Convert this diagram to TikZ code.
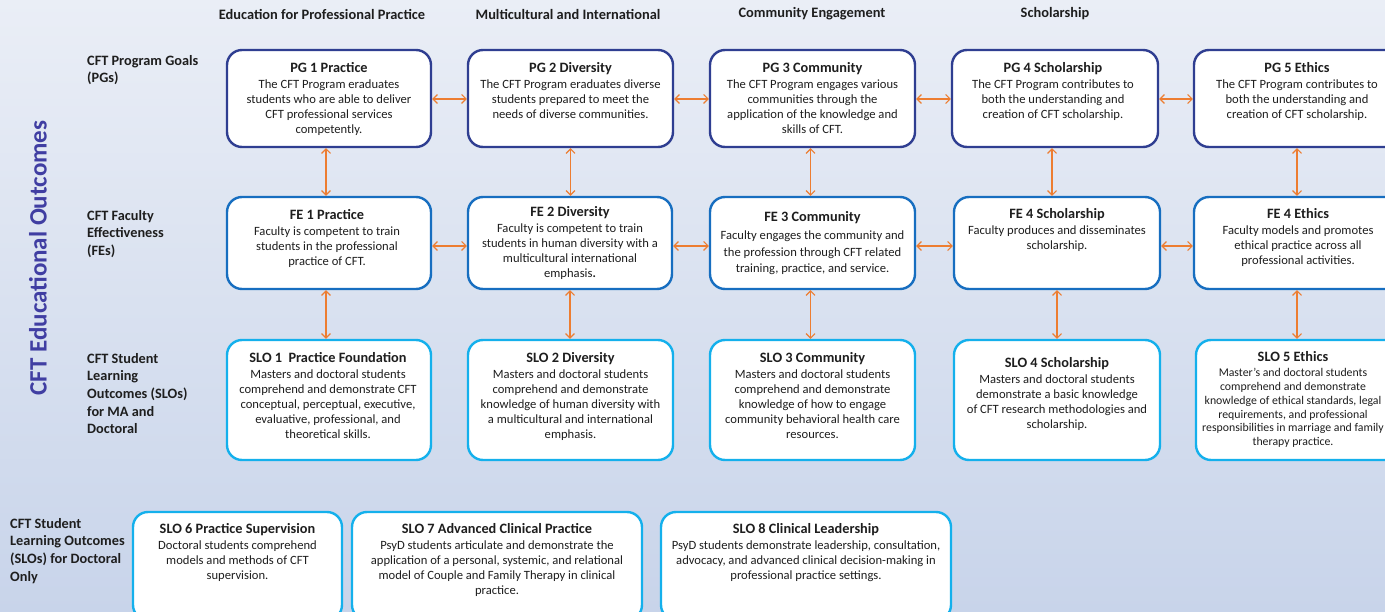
\documentclass[tikz,border=0pt]{standalone}
\usepackage{fontspec}
\setmainfont{Carlito}
\usetikzlibrary{arrows.meta}
\definecolor{bgtop}{RGB}{234,238,246}
\definecolor{bgbot}{RGB}{200,212,234}
\definecolor{pgcol}{RGB}{47,62,145}
\definecolor{fecol}{RGB}{23,110,192}
\definecolor{slocol}{RGB}{20,176,236}
\definecolor{arrcol}{RGB}{237,125,49}
\definecolor{vtext}{RGB}{64,62,162}
\definecolor{txtcol}{RGB}{30,30,30}
\newcommand{\bodyf}{\fontsize{12.6}{15}\selectfont}
\newcommand{\ttlf}{\fontsize{14.3}{15}\selectfont\bfseries}
\begin{document}
\begin{tikzpicture}[x=1pt,y=-1pt,
  boxbase/.style={draw, fill=white, rounded corners=15pt, line width=2.4pt, inner sep=0pt},
  pgbox/.style={boxbase, draw=pgcol, minimum height=97pt},
  febox/.style={boxbase, draw=fecol, minimum height=92pt},
  slobox/.style={boxbase, draw=slocol, minimum height=120pt},
  botbox/.style={boxbase, draw=slocol, minimum height=108pt},
  txt/.style={align=center, inner sep=0pt, anchor=north, font=\bodyf, text=txtcol},
  hdr/.style={font=\fontsize{14.4}{15}\selectfont\bfseries, text=txtcol, inner sep=0pt},
  rowlab/.style={font=\fontsize{14.3}{17.6}\selectfont\bfseries, text=txtcol, align=left, anchor=north west, inner sep=0pt},
  conn/.style={draw=arrcol, line width=1.1pt, {Straight Barb[length=4.5pt,width=9pt]}-{Straight Barb[length=4.5pt,width=9pt]}}
]
\useasboundingbox (0,0) rectangle (1385,612);
\clip (0,0) rectangle (1385,612);
\shade[top color=bgtop, bottom color=bgbot] (0,0) rectangle (1385,612);

% vertical title
\node[rotate=90, font=\fontsize{25}{28}\selectfont\bfseries, text=vtext, inner sep=0pt] (vt) at (38,258) {CFT Educational Outcomes};

% column headers
\node[hdr] (h1) at (322,14) {Education for Professional Practice};
\node[hdr] (h2) at (568,14) {Multicultural and International};
\node[hdr] (h3) at (812,14) {Community Engagement};
\node[hdr] (h4) at (1055,14) {Scholarship};

% row labels
\node[rowlab] (l1) at (87,55) {CFT Program Goals\\(PGs)};
\node[rowlab] (l2) at (87,210) {CFT Faculty\\Effectiveness\\(FEs)};
\node[rowlab] (l3) at (87,353) {CFT Student\\Learning\\Outcomes (SLOs)\\for MA and\\Doctoral};
\node[rowlab] (l4) at (10,518) {CFT Student\\Learning Outcomes\\(SLOs) for Doctoral\\Only};

% PG row
\node[pgbox, minimum width=204pt] (pg1) at (329,98.5) {};
\node[pgbox, minimum width=205pt] (pg2) at (570.5,98.5) {};
\node[pgbox, minimum width=205pt] (pg3) at (812.5,98.5) {};
\node[pgbox, minimum width=206pt] (pg4) at (1055,98.5) {};
\node[pgbox, minimum width=206pt] (pg5) at (1297,98.5) {};
\node[txt] (pg1t) at (329,62) {{\ttlf PG 1 Practice}\\[1pt]The CFT Program eraduates\\students who are able to deliver\\CFT professional services\\competently.};
\node[txt] (pg2t) at (570.5,62) {{\ttlf PG 2 Diversity}\\[1pt]The CFT Program eraduates diverse\\students prepared to meet the\\needs of diverse communities.};
\node[txt] (pg3t) at (812.5,62) {{\ttlf PG 3 Community}\\[1pt]The CFT Program engages various\\communities through the\\application of the knowledge and\\skills of CFT.};
\node[txt] (pg4t) at (1053,62) {{\ttlf PG 4 Scholarship}\\[1pt]The CFT Program contributes to\\both the understanding and\\creation of CFT scholarship.};
\node[txt] (pg5t) at (1297,62) {{\ttlf PG 5 Ethics}\\[1pt]The CFT Program contributes to\\both the understanding and\\creation of CFT scholarship.};

% FE row
\node[febox, minimum width=204pt] (fe1) at (329,243) {};
\node[febox, minimum width=204pt] (fe2) at (570,243) {};
\node[febox, minimum width=205pt] (fe3) at (812.5,243) {};
\node[febox, minimum width=206pt] (fe4) at (1057,243) {};
\node[febox, minimum width=206pt] (fe5) at (1297,243) {};
\node[txt] (fe1t) at (327,209) {{\ttlf FE 1 Practice}\\[1pt]Faculty is competent to train\\students in the professional\\practice of CFT.};
\node[txt] (fe2t) at (570,206) {{\ttlf FE 2 Diversity}\\[1pt]Faculty is competent to train\\students in human diversity with a\\multicultural international\\emphasis\textbf{.}};
\node[txt, font=\fontsize{12.6}{16.5}\selectfont] (fe3t) at (812.5,211) {{\ttlf FE 3 Community}\\[2pt]Faculty engages the community and\\the profession through CFT related\\training, practice, and service.};
\node[txt] (fe4t) at (1057,208) {{\ttlf FE 4 Scholarship}\\[1pt]Faculty produces and disseminates\\scholarship.};
\node[txt] (fe5t) at (1298,208) {{\ttlf FE 4 Ethics}\\[1pt]Faculty models and promotes\\ethical practice across all\\professional activities.};

% SLO row
\node[slobox, minimum width=204pt] (slo1) at (329,400) {};
\node[slobox, minimum width=205pt] (slo2) at (570.5,400) {};
\node[slobox, minimum width=205pt] (slo3) at (812.5,400) {};
\node[slobox, minimum width=206pt] (slo4) at (1057,400) {};
\node[slobox, minimum width=206pt] (slo5) at (1299,400) {};
\node[txt] (slo1t) at (328,352) {{\ttlf SLO 1\ \ Practice Foundation}\\[1pt]Masters and doctoral students\\comprehend and demonstrate CFT\\conceptual, perceptual, executive,\\evaluative, professional, and\\theoretical skills.};
\node[txt] (slo2t) at (570.5,352) {{\ttlf SLO 2 Diversity}\\[1pt]Masters and doctoral students\\comprehend and demonstrate\\knowledge of human diversity with\\a multicultural and international\\emphasis.};
\node[txt] (slo3t) at (812.5,352) {{\ttlf SLO 3 Community}\\[1pt]Masters and doctoral students\\comprehend and demonstrate\\knowledge of how to engage\\community behavioral health care\\resources.};
\node[txt] (slo4t) at (1057,357) {{\ttlf SLO 4 Scholarship}\\[1pt]Masters and doctoral students\\demonstrate a basic knowledge\\of CFT research methodologies and\\scholarship.};
\node[txt, font=\fontsize{11.8}{13.7}\selectfont] (slo5t) at (1293,351) {{\ttlf SLO 5 Ethics}\\[2pt]Master’s and doctoral students\\comprehend and demonstrate\\knowledge of ethical standards, legal\\requirements, and professional\\responsibilities in marriage and family\\therapy practice.};

% bottom row
\node[botbox, minimum width=209pt] (slo6) at (237.5,566) {};
\node[botbox, minimum width=290pt] (slo7) at (497,566) {};
\node[botbox, minimum width=290pt] (slo8) at (806,566) {};
\node[txt] (slo6t) at (237.5,523) {{\ttlf SLO 6 Practice Supervision}\\[1pt]Doctoral students comprehend\\models and methods of CFT\\supervision.};
\node[txt] (slo7t) at (497,523) {{\ttlf SLO 7 Advanced Clinical Practice}\\[1pt]PsyD students articulate and demonstrate the\\application of a personal, systemic, and relational\\model of Couple and Family Therapy in clinical\\practice.};
\node[txt] (slo8t) at (806,523) {{\ttlf SLO 8 Clinical Leadership}\\[1pt]PsyD students demonstrate leadership, consultation,\\advocacy, and advanced clinical decision-making in\\professional practice settings.};

% horizontal connectors
\foreach \a/\b in {pg1/pg2,pg2/pg3,pg3/pg4,pg4/pg5}
  \draw[conn] ([yshift=-0.5pt]\a.east) -- ([yshift=-0.5pt]\a.east -| \b.west);
\foreach \a/\b in {fe1/fe2,fe2/fe3,fe3/fe4,fe4/fe5}
  \draw[conn] ([yshift=-3pt]\a.east) -- ([yshift=-3pt]\a.east -| \b.west);
% vertical connectors
\draw[conn] ([xshift=-3pt]pg1.south) -- ([xshift=-3pt]pg1.south |- fe1.north);
\draw[conn] (pg2.south) -- (pg2.south |- fe2.north);
\draw[conn] ([xshift=-2pt]pg3.south) -- ([xshift=-2pt]pg3.south |- fe3.north);
\draw[conn] ([xshift=-3pt]pg4.south) -- ([xshift=-3pt]pg4.south |- fe4.north);
\draw[conn] (pg5.south) -- (pg5.south |- fe5.north);
\draw[conn] ([xshift=-3pt]fe1.south) -- ([xshift=-3pt]fe1.south |- slo1.north);
\draw[conn] (fe2.south) -- (fe2.south |- slo2.north);
\draw[conn] ([xshift=-2pt]fe3.south) -- ([xshift=-2pt]fe3.south |- slo3.north);
\draw[conn] (fe4.south) -- (fe4.south |- slo4.north);
\draw[conn] (fe5.south) -- (fe5.south |- slo5.north);
\end{tikzpicture}
\end{document}
